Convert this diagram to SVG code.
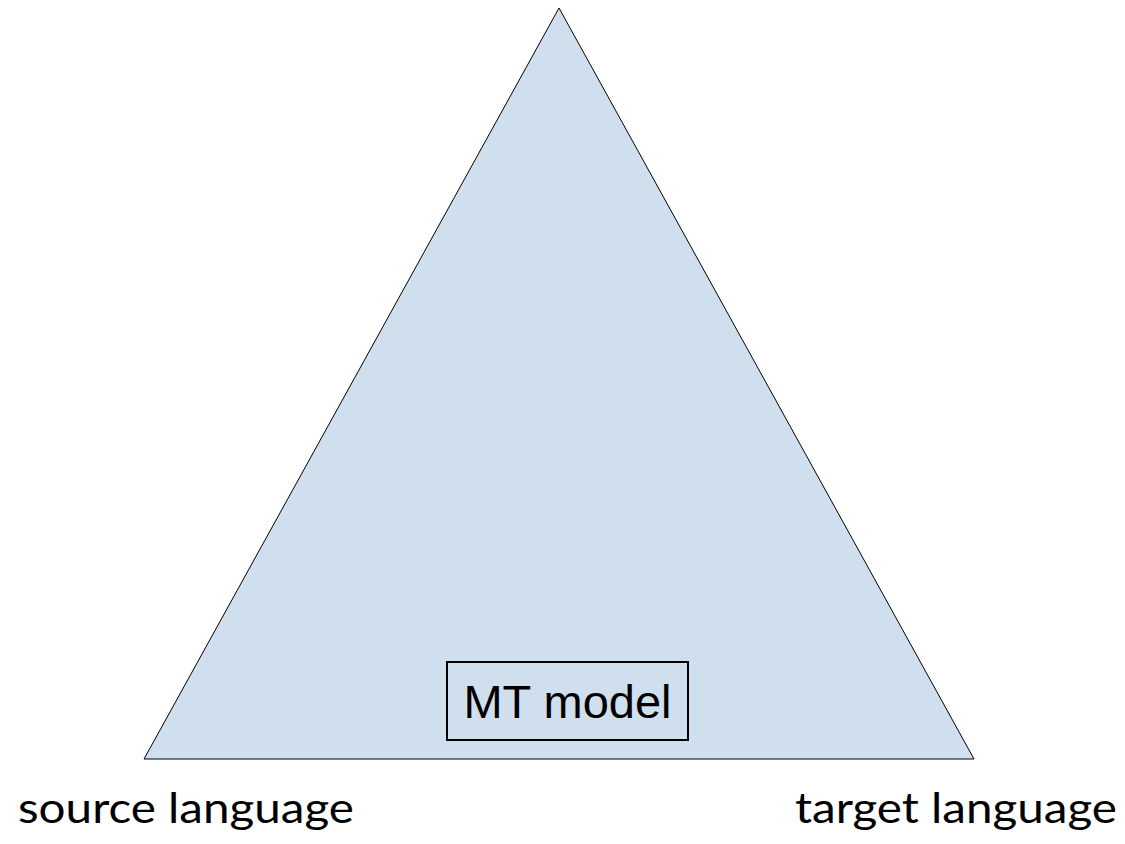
<svg xmlns="http://www.w3.org/2000/svg" width="1125" height="844" viewBox="0 0 1125 844">
  <style>
    .tri { fill: #d0dfee; stroke: #000; stroke-width: 1; }
    .box { fill: none; stroke: #000; stroke-width: 2; }
    .boxlabel { font-family: "Liberation Sans", Arial, sans-serif; font-size: 47px; fill: #000; }
    .corner { font-family: Lato, "Open Sans", sans-serif; font-size: 42px; fill: #000; }
  </style>
  <rect width="1125" height="844" fill="#fff"/>
  <g id="triangle">
    <polygon class="tri" points="559,8 144,759 974,759"/>
  </g>
  <g id="mt-model">
    <rect class="box" x="447" y="662" width="241" height="78"/>
    <text class="boxlabel" x="567.5" y="718" text-anchor="middle">MT model</text>
  </g>
  <g id="source-language">
    <text class="corner" x="18" y="823" textLength="336" lengthAdjust="spacingAndGlyphs">source language</text>
  </g>
  <g id="target-language">
    <text class="corner" x="795" y="823" textLength="322" lengthAdjust="spacingAndGlyphs">target language</text>
  </g>
  <g id="connectors"/>
</svg>
